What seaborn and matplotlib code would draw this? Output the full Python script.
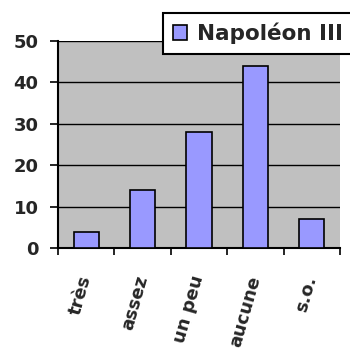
import matplotlib
matplotlib.use("Agg")
import matplotlib.pyplot as plt
import seaborn as sns
import pandas as pd
from matplotlib.patches import Patch

categories = ["très", "assez", "un peu", "aucune", "s.o."]
values = [4, 14, 28, 44, 7]
series_name = "Napoléon III"
yticks = [0, 10, 20, 30, 40, 50]

sns.set_style("white")
plt.rcParams['font.family'] = ['DejaVu Sans']

df = pd.DataFrame({"cat": categories, "val": values})

fig = plt.figure(figsize=(3.5, 3.49), dpi=100)
ax = fig.add_axes([0.166, 0.289, 0.805, 0.594])
ax.set_facecolor("#C0C0C0")
sns.barplot(data=df, x="cat", y="val", ax=ax, color="#9999FF", width=0.45,
            edgecolor="black", linewidth=1.2, saturation=1, zorder=3)
ax.set_xlim(-0.5, len(categories) - 0.5)
ax.set_ylim(0, 50)
ax.set_yticks(yticks)
ax.set_yticklabels([str(t) for t in yticks], fontsize=13, fontweight="bold")
ax.yaxis.grid(True, color="black", linewidth=1, zorder=1)
ax.set_axisbelow(True)
ax.set_xlabel("")
ax.set_ylabel("")

bounds = [i - 0.5 for i in range(len(categories) + 1)]
ax.set_xticks(bounds)
ax.set_xticklabels([""] * len(bounds))
ax.set_xticks(range(len(categories)), minor=True)
ax.set_xticklabels(categories, minor=True, rotation=74, fontsize=13,
                   fontweight="bold",
                   ha="right", va="center", rotation_mode="anchor")
ax.tick_params(axis="x", which="major", length=5, width=1.2, color="black", bottom=True)
ax.tick_params(axis="x", which="minor", length=0, pad=20)
ax.tick_params(axis="y", which="major", length=6, width=1.2, color="black", left=True, pad=8)

for s in ["top", "right"]:
    ax.spines[s].set_visible(False)
for s in ["left", "bottom"]:
    ax.spines[s].set_color("black")
    ax.spines[s].set_linewidth(1.5)

handle = Patch(facecolor="#9999FF", edgecolor="black", linewidth=1.2)
leg = fig.legend([handle], [series_name], loc="upper left",
                 bbox_to_anchor=(163 / 350, 1 - 13 / 349),
                 prop={"size": 15.5, "weight": "bold"}, frameon=True,
                 framealpha=1, fancybox=False, borderpad=0.45,
                 handlelength=0.65, handleheight=0.65, handletextpad=0.5,
                 borderaxespad=0)
leg.get_frame().set_edgecolor("black")
leg.get_frame().set_linewidth(1.5)
leg.get_frame().set_facecolor("white")
leg.set_zorder(10)

fig.savefig("out.png", dpi=100)
